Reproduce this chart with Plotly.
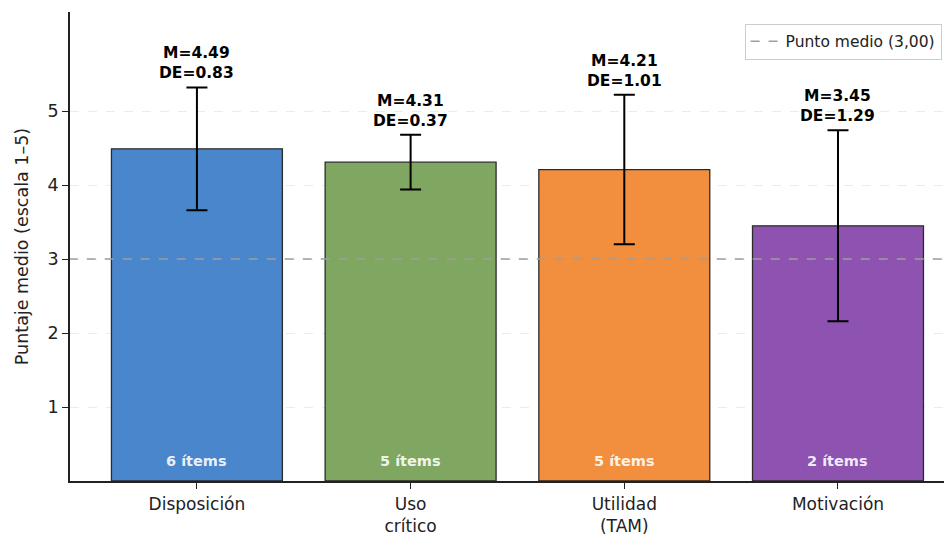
import plotly.graph_objects as go

categories = ["Disposición", "Uso<br>crítico", "Utilidad<br>(TAM)", "Motivación"]
means = [4.49, 4.31, 4.21, 3.45]
sds = [0.83, 0.37, 1.01, 1.29]
n_items = [6, 5, 5, 2]
colors = ["#4a86cb", "#7fa762", "#f28f3e", "#8e52b1"]
midpoint = 3.0
y_ticks = [1, 2, 3, 4, 5]

FONT = "DejaVu Sans"
x = list(range(len(categories)))

fig = go.Figure()
fig.add_trace(go.Bar(
    x=x, y=means, width=0.8,
    marker=dict(color=colors, line=dict(color="#2b2b2b", width=1.3)),
    error_y=dict(type="data", array=sds, visible=True, color="black", thickness=2, width=10.5),
    showlegend=False, hoverinfo="skip",
))
fig.add_trace(go.Scatter(
    x=[-0.6, 3.6], y=[midpoint, midpoint], mode="lines",
    line=dict(color="#9e9e9e", width=1.5, dash="dash"),
    name="Punto medio (3,00)", showlegend=True, hoverinfo="skip",
))

for i in x:
    fig.add_annotation(
        x=i, y=means[i] + sds[i], xref="x", yref="y",
        text=f"<b>M={means[i]:.2f}<br>DE={sds[i]:.2f}</b>",
        showarrow=False, yanchor="bottom", yshift=3,
        font=dict(family=FONT, size=15.5, color="black"),
    )
    fig.add_annotation(
        x=i, y=0.27, xref="x", yref="y",
        text=f"<b>{n_items[i]} ítems</b>",
        showarrow=False, yanchor="middle",
        font=dict(family=FONT, size=14.5, color="rgba(255,255,255,0.9)"),
    )

fig.update_layout(
    width=952, height=536,
    margin=dict(l=62, r=0, t=4, b=63),
    plot_bgcolor="white", paper_bgcolor="white",
    font=dict(family=FONT, size=17, color="#222"),
    bargap=0.2,
    legend=dict(
        x=0.758, y=0.975, xanchor="left", yanchor="top",
        bgcolor="white", bordercolor="#cccccc", borderwidth=1,
        font=dict(family=FONT, size=15.5, color="#222"),
    ),
    xaxis=dict(
        range=[-0.594, 3.571], tickmode="array", tickvals=x, ticktext=categories,
        showline=True, linecolor="#222", linewidth=1.5,
        ticks="outside", ticklen=6, tickcolor="#222",
        showgrid=False, zeroline=False, ticklabelstandoff=1,
        tickfont=dict(family=FONT, size=17, color="#222"),
    ),
    yaxis=dict(
        range=[0, 6.34], tickmode="array", tickvals=y_ticks,
        showline=True, linecolor="#222", linewidth=1.5,
        ticks="outside", ticklen=6, tickcolor="#222",
        showgrid=True, gridcolor="#ebebeb", gridwidth=0.8, griddash="dash",
        zeroline=False,
        title=dict(text="Puntaje medio (escala 1–5)", font=dict(family=FONT, size=17.5, color="#222"), standoff=14),
        tickfont=dict(family=FONT, size=17.5, color="#222"),
    ),
)

fig.write_html("out.html")
